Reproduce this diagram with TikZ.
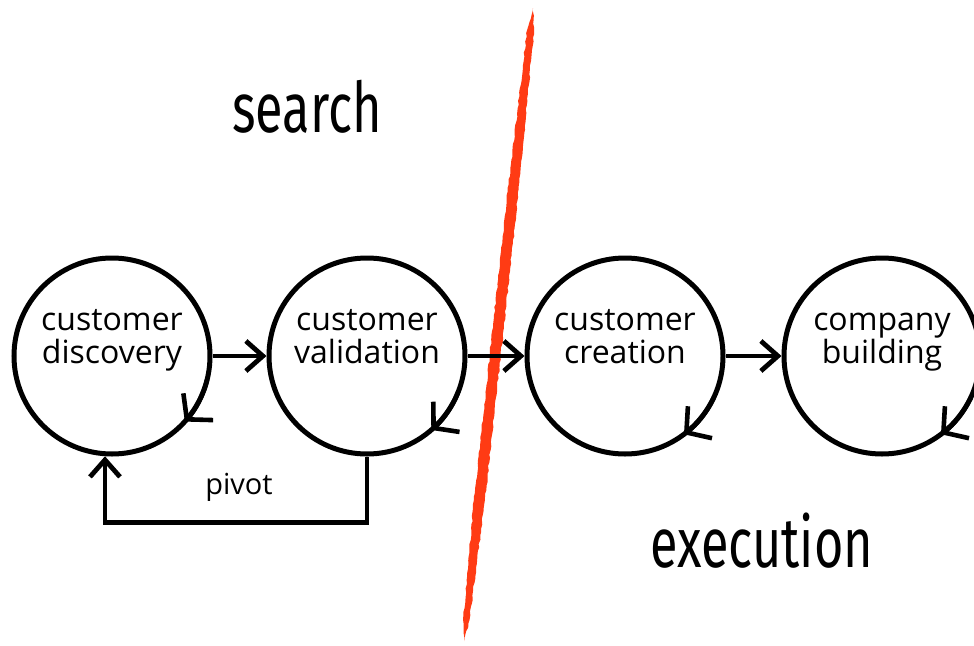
\documentclass[tikz,border=0pt]{standalone}
\usepackage{fontspec}
\setmainfont{Open Sans}
\newfontfamily\headfont[FakeStretch=0.72]{Fira Sans}
\usetikzlibrary{arrows.meta,calc,decorations.pathmorphing}

\definecolor{slash}{RGB}{255,59,20}

\begin{document}
\begin{tikzpicture}[x=1pt,y=-1pt,
  stage/.style={circle, draw=black, line width=5pt, minimum size=196pt, inner sep=0pt},
  stagetext/.style={align=center, inner sep=0pt, anchor=base, font=\fontsize{32}{33}\selectfont},
  flow/.style={-{Straight Barb[length=17pt,width=30pt]}, line width=4.8pt},
  cycle tip/.style={-{Straight Barb[length=17pt,width=40pt]}, line width=4.6pt},
  heading/.style={inner sep=0pt, anchor=base west, font=\headfont\fontsize{70}{72}\selectfont},
  note/.style={inner sep=0pt, font=\fontsize{29}{30}\selectfont}
]
\useasboundingbox (0,0) rectangle (974,645);

% the dividing slash between search and execution
\fill[slash, decorate, decoration={random steps, segment length=4pt, amplitude=0.7pt}]
  (533,8) -- (534.1,30) -- (517.6,200) -- (500.7,355) -- (484.9,500) -- (469.5,620)
  -- (464,641) -- (463.1,620) -- (473.9,500) -- (489.7,355) -- (506.6,200)
  -- (527.1,30) -- cycle;

% the four stages
\node[stage] (c1) at (112,356) {};
\node[stage] (c2) at (367,356) {};
\node[stage] (c3) at (625,356) {};
\node[stage] (c4) at (882,356) {};

\node[stagetext] (t1) at (112,363) {customer\\discovery};
\node[stagetext] (t2) at (367,363) {customer\\validation};
\node[stagetext] (t3) at (625,363) {customer\\creation};
\node[stagetext] (t4) at (882,363) {company\\building};

% iteration tips on each circle
\draw[cycle tip] ($(c1.center)+(14:98)$) arc[start angle=14, end angle=42, radius=98];
\draw[cycle tip] ($(c2.center)+(21:98)$) arc[start angle=21, end angle=49, radius=98];
\draw[cycle tip] ($(c3.center)+(25:98)$) arc[start angle=25, end angle=53, radius=98];
\draw[cycle tip] ($(c4.center)+(25:98)$) arc[start angle=25, end angle=53, radius=98];

% flow between stages
\draw[flow] (c1) -- (c2);
\draw[flow] (c2) -- (c3);
\draw[flow] (c3) -- (c4);

% pivot loop back to discovery
\coordinate (pv) at ($(c2.south)+(0,66)$);
\draw[flow] (c2.south) -- (pv) -| (c1.266);
\node[note] (pivot) at (239,487) {pivot};

% phase headings
\node[heading] (search) at (232,132) {search};
\node[heading] (execution) at (650,567) {execution};
\end{tikzpicture}
\end{document}
